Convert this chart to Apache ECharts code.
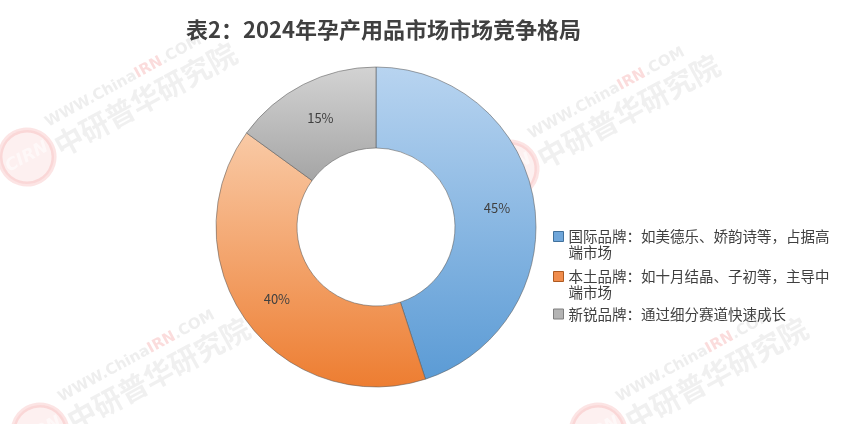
<!DOCTYPE html>
<html>
<head>
<meta charset="utf-8">
<script src="https://cdn.jsdelivr.net/npm/echarts@6/dist/echarts.min.js"></script>
<style>
  html, body { margin: 0; padding: 0; background: #fff; }
  #main { width: 841px; height: 424px; }
</style>
</head>
<body>
<div id="main"></div>
<script>
// 数据
const categories = ['国际品牌', '本土品牌', '新锐品牌'];
const legendTexts = [
    '国际品牌：如美德乐、娇韵诗等，占据高\n端市场',
    '本土品牌：如十月结晶、子初等，主导中\n端市场',
    '新锐品牌：通过细分赛道快速成长'
];
const shares = [45, 40, 15];

// 颜色（上浅下深的渐变）
const topColors = ['#b8d4f0', '#f9caa6', '#d3d3d3'];
const bottomColors = ['#5b9bd5', '#ed7d31', '#a5a5a5'];
const iconColors = ['#6fa6da', '#f08c4c', '#b4b4b4'];
const iconBorders = ['#41719c', '#ae5a21', '#7f7f7f'];

const fontCN = '"Noto Sans CJK SC", "Noto Sans", sans-serif';

const pieData = categories.map(function (name, i) {
    return {
        name: name,
        value: shares[i],
        itemStyle: {
            color: {
                type: 'linear', x: 0, y: 0, x2: 0, y2: 1,
                colorStops: [
                    { offset: 0, color: topColors[i] },
                    { offset: 1, color: bottomColors[i] }
                ]
            }
        }
    };
});

function legendItem(i) {
    return {
        name: categories[i],
        itemStyle: { color: iconColors[i], borderColor: iconBorders[i], borderWidth: 1 }
    };
}

// 水印（以logo圆心为原点）
function watermark(x, y) {
    return {
        type: 'group',
        x: x, y: y,
        rotation: 0.5,
        silent: true,
        z: 100,
        children: [
            { type: 'circle', shape: { cx: 0, cy: 0, r: 27 }, style: { fill: 'rgba(240,110,110,0.10)', stroke: 'rgba(235,90,90,0.16)', lineWidth: 5 } },
            { type: 'text', x: 0, y: 0, style: { text: 'CIRN', font: 'italic bold 17px "DejaVu Sans"', fill: 'rgba(255,255,255,0.55)', align: 'center', verticalAlign: 'middle' } },
            { type: 'text', x: 33, y: -20, style: {
                text: 'WWW.China{r|IRN}.COM', font: 'bold 15px "DejaVu Sans"', fill: 'rgba(160,160,160,0.18)', verticalAlign: 'middle',
                rich: { r: { font: 'bold 15px "DejaVu Sans"', fill: 'rgba(235,80,80,0.20)' } }
            } },
            { type: 'text', x: 30, y: 6, style: { text: '中研普华研究院', font: 'bold 29px ' + fontCN, fill: 'rgba(160,160,160,0.16)', verticalAlign: 'middle' } }
        ]
    };
}

const myChart = echarts.init(document.getElementById('main'), null, { renderer: 'canvas' });
myChart.setOption({
    backgroundColor: '#ffffff',
    animation: false,
    title: {
        text: '表2：2024年孕产用品市场市场竞争格局',
        left: 186,
        top: 19,
        padding: 0,
        textStyle: { fontFamily: fontCN, fontSize: 22, fontWeight: 'bold', color: '#404040' }
    },
    graphic: [
        watermark(27, 157),
        watermark(510, 169),
        watermark(40, 432),
        watermark(598, 432)
    ],
    legend: [
        {
            orient: 'vertical',
            left: 553,
            top: 228,
            padding: 0,
            itemWidth: 10,
            itemHeight: 32,
            itemGap: 7,
            icon: 'path://M0,0M10,32M0,3h10v10h-10z',
            data: [legendItem(0), legendItem(1)],
            formatter: function (name) { return legendTexts[categories.indexOf(name)]; },
            textStyle: { fontFamily: fontCN, fontSize: 14.5, lineHeight: 16, color: '#404040' }
        },
        {
            orient: 'vertical',
            left: 553,
            top: 306,
            padding: 0,
            itemWidth: 10,
            itemHeight: 10,
            icon: 'rect',
            data: [legendItem(2)],
            formatter: function (name) { return legendTexts[categories.indexOf(name)]; },
            textStyle: { fontFamily: fontCN, fontSize: 14.5, lineHeight: 16, color: '#404040' }
        }
    ],
    series: [
        {
            name: '市场竞争格局',
            type: 'pie',
            center: [376, 227],
            radius: [79, 160],
            startAngle: 90,
            clockwise: true,
            avoidLabelOverlap: false,
            itemStyle: { borderColor: 'rgba(90,90,90,0.55)', borderWidth: 1 },
            label: {
                show: true,
                position: 'inside',
                formatter: '{c}%',
                fontFamily: fontCN,
                fontSize: 13,
                color: '#404040'
            },
            labelLine: { show: false },
            emphasis: { scale: false },
            data: pieData
        }
    ]
});
</script>
</body>
</html>
